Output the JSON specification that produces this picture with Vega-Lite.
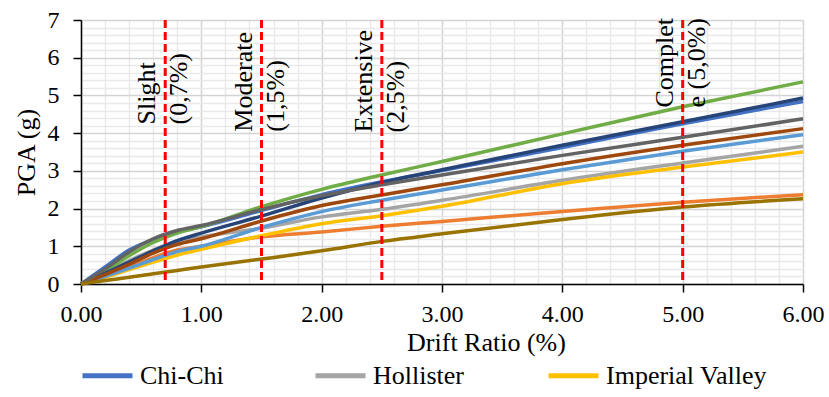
{
  "$schema": "https://vega.github.io/schema/vega-lite/v6.json",
  "width": 722,
  "height": 264,
  "autosize": {"type": "none"},
  "padding": {"left": 81, "top": 20, "right": 26, "bottom": 113},
  "background": "#ffffff",
  "config": {
    "view": {"stroke": null},
    "font": "Liberation Serif",
    "axis": {"labelFont": "Liberation Serif", "titleFont": "Liberation Serif"},
    "legend": {"labelFont": "Liberation Serif", "titleFont": "Liberation Serif"}
  },
  "datasets": {
    "curves": [
      {"drift": 0.0, "Chi-Chi": 0.00, "Duzce": 0.00, "Hollister": 0.00, "Imperial Valley": 0.00, "Kobe": 0.00, "Kocaeli": 0.00, "Landers": 0.00, "Loma Prieta": 0.00, "Manjil": 0.00, "Northridge": 0.00},
      {"drift": 0.2, "Chi-Chi": 0.45, "Duzce": 0.22, "Hollister": 0.30, "Imperial Valley": 0.18, "Kobe": 0.20, "Kocaeli": 0.35, "Landers": 0.28, "Loma Prieta": 0.25, "Manjil": 0.40, "Northridge": 0.09},
      {"drift": 0.4, "Chi-Chi": 0.90, "Duzce": 0.45, "Hollister": 0.62, "Imperial Valley": 0.38, "Kobe": 0.42, "Kocaeli": 0.75, "Landers": 0.58, "Loma Prieta": 0.52, "Manjil": 0.85, "Northridge": 0.18},
      {"drift": 0.6, "Chi-Chi": 1.18, "Duzce": 0.70, "Hollister": 0.90, "Imperial Valley": 0.58, "Kobe": 0.65, "Kocaeli": 1.10, "Landers": 0.88, "Loma Prieta": 0.82, "Manjil": 1.20, "Northridge": 0.27},
      {"drift": 0.8, "Chi-Chi": 1.38, "Duzce": 0.90, "Hollister": 1.12, "Imperial Valley": 0.77, "Kobe": 0.86, "Kocaeli": 1.35, "Landers": 1.15, "Loma Prieta": 1.05, "Manjil": 1.42, "Northridge": 0.36},
      {"drift": 1.0, "Chi-Chi": 1.52, "Duzce": 1.00, "Hollister": 1.25, "Imperial Valley": 0.92, "Kobe": 1.00, "Kocaeli": 1.52, "Landers": 1.35, "Loma Prieta": 1.20, "Manjil": 1.55, "Northridge": 0.45},
      {"drift": 1.5, "Chi-Chi": 1.95, "Duzce": 1.25, "Hollister": 1.48, "Imperial Valley": 1.28, "Kobe": 1.50, "Kocaeli": 2.05, "Landers": 1.80, "Loma Prieta": 1.67, "Manjil": 1.98, "Northridge": 0.66},
      {"drift": 2.0, "Chi-Chi": 2.37, "Duzce": 1.38, "Hollister": 1.78, "Imperial Valley": 1.60, "Kobe": 1.92, "Kocaeli": 2.51, "Landers": 2.28, "Loma Prieta": 2.08, "Manjil": 2.34, "Northridge": 0.88},
      {"drift": 2.5, "Chi-Chi": 2.71, "Duzce": 1.53, "Hollister": 1.98, "Imperial Valley": 1.81, "Kobe": 2.22, "Kocaeli": 2.89, "Landers": 2.69, "Loma Prieta": 2.36, "Manjil": 2.63, "Northridge": 1.13},
      {"drift": 3.0, "Chi-Chi": 3.01, "Duzce": 1.66, "Hollister": 2.22, "Imperial Valley": 2.06, "Kobe": 2.49, "Kocaeli": 3.25, "Landers": 3.03, "Loma Prieta": 2.63, "Manjil": 2.89, "Northridge": 1.33},
      {"drift": 4.0, "Chi-Chi": 3.62, "Duzce": 1.92, "Hollister": 2.75, "Imperial Valley": 2.66, "Kobe": 3.03, "Kocaeli": 3.98, "Landers": 3.68, "Loma Prieta": 3.19, "Manjil": 3.41, "Northridge": 1.71},
      {"drift": 5.0, "Chi-Chi": 4.25, "Duzce": 2.17, "Hollister": 3.21, "Imperial Valley": 3.10, "Kobe": 3.52, "Kocaeli": 4.70, "Landers": 4.30, "Loma Prieta": 3.68, "Manjil": 3.89, "Northridge": 2.04},
      {"drift": 6.0, "Chi-Chi": 4.84, "Duzce": 2.37, "Hollister": 3.65, "Imperial Valley": 3.50, "Kobe": 3.96, "Kocaeli": 5.36, "Landers": 4.93, "Loma Prieta": 4.12, "Manjil": 4.38, "Northridge": 2.26}
    ],
    "states": [
      {"drift": 0.7, "pga": 4.23, "label": "Slight\n(0,7%)"},
      {"drift": 1.5, "pga": 4.04, "label": "Moderate\n(1,5%)"},
      {"drift": 2.5, "pga": 4.02, "label": "Extensive\n(2,5%)"},
      {"drift": 5.0, "pga": 4.68, "label": "Complet\ne (5,0%)"}
    ]
  },
  "layer": [
    {
      "data": {"name": "curves"},
      "transform": [
        {"fold": ["Chi-Chi", "Duzce", "Hollister", "Imperial Valley", "Kobe", "Kocaeli", "Landers", "Loma Prieta", "Manjil", "Northridge"], "as": ["record", "pga"]}
      ],
      "mark": {"type": "line", "strokeWidth": 3.5, "interpolate": "monotone"},
      "encoding": {
        "x": {
          "field": "drift", "type": "quantitative", "title": "Drift Ratio (%)",
          "scale": {"domain": [0, 6], "nice": false, "zero": false},
          "axis": {
            "titleFont": "Liberation Serif", "titleFontSize": 26, "titleFontWeight": "normal", "titleColor": "#000000",
            "titleX": 405, "titleY": 66, "titleBaseline": "alphabetic",
            "values": [0,0.2,0.4,0.6,0.8,1,1.2,1.4,1.6,1.8,2,2.2,2.4,2.6,2.8,3,3.2,3.4,3.6,3.8,4,4.2,4.4,4.6,4.8,5,5.2,5.4,5.6,5.8,6],
            "labelExpr": "datum.value % 1 === 0 ? format(datum.value, '.2f') : ''",
            "labelFont": "Liberation Serif", "labelFontSize": 24, "labelColor": "#000000",
            "labelPadding": 10, "labelFlush": false, "labelOverlap": false,
            "domainColor": "#000000", "domainWidth": 1.5,
            "tickColor": "#000000", "tickSize": 8, "tickWidth": 1.5,
            "tickOpacity": {"condition": {"test": "datum.value % 1 === 0", "value": 1}, "value": 0},
            "grid": true, "gridWidth": 1.5,
            "gridColor": {"condition": {"test": "datum.value % 1 === 0", "value": "#d4d4d4"}, "value": "#e9e9e9"}
          }
        },
        "y": {
          "field": "pga", "type": "quantitative", "title": "PGA (g)",
          "scale": {"domain": [0, 7], "nice": false},
          "axis": {
            "titleFont": "Liberation Serif", "titleFontSize": 26, "titleFontWeight": "normal", "titleColor": "#000000",
            "titlePadding": 8,
            "values": [0,0.2,0.4,0.6,0.8,1,1.2,1.4,1.6,1.8,2,2.2,2.4,2.6,2.8,3,3.2,3.4,3.6,3.8,4,4.2,4.4,4.6,4.8,5,5.2,5.4,5.6,5.8,6,6.2,6.4,6.6,6.8,7],
            "labelExpr": "datum.value % 1 === 0 ? format(datum.value, 'd') : ''",
            "labelFont": "Liberation Serif", "labelFontSize": 24, "labelColor": "#000000",
            "labelPadding": 14, "labelOverlap": false, "labelFlush": false,
            "domainColor": "#000000", "domainWidth": 1.5,
            "tickColor": "#000000", "tickSize": 8, "tickWidth": 1.5,
            "tickOpacity": {"condition": {"test": "datum.value % 1 === 0", "value": 1}, "value": 0},
            "grid": true, "gridWidth": 1.5,
            "gridColor": {"condition": {"test": "datum.value % 1 === 0", "value": "#d4d4d4"}, "value": "#e9e9e9"}
          }
        },
        "color": {
          "field": "record", "type": "nominal",
          "scale": {
            "domain": ["Chi-Chi", "Duzce", "Hollister", "Imperial Valley", "Kobe", "Kocaeli", "Landers", "Loma Prieta", "Manjil", "Northridge"],
            "range": ["#4472C4", "#ED7D31", "#A5A5A5", "#FFC000", "#5B9BD5", "#70AD47", "#264478", "#9E480E", "#636363", "#997300"]
          },
          "legend": {
            "values": ["Chi-Chi", "Hollister", "Imperial Valley"],
            "title": null,
            "orient": "none", "legendX": -1, "legendY": 328,
            "direction": "horizontal",
            "symbolType": "stroke", "symbolSize": 2500, "symbolStrokeWidth": 5,
            "labelFont": "Liberation Serif", "labelFontSize": 26, "labelColor": "#000000", "labelLimit": 0,
            "labelOffset": 5, "columnPadding": 4, "gridAlign": "all", "padding": 0
          }
        }
      }
    },
    {
      "data": {"name": "states"},
      "mark": {"type": "rule", "color": "#FF0000", "strokeWidth": 3, "strokeDash": [8, 4]},
      "encoding": {
        "x": {
          "field": "drift", "type": "quantitative", "title": "Drift Ratio (%)",
          "scale": {"domain": [0, 6], "nice": false, "zero": false},
          "axis": {
            "titleFont": "Liberation Serif", "titleFontSize": 26, "titleFontWeight": "normal", "titleColor": "#000000",
            "titleX": 405, "titleY": 66, "titleBaseline": "alphabetic",
            "values": [0,0.2,0.4,0.6,0.8,1,1.2,1.4,1.6,1.8,2,2.2,2.4,2.6,2.8,3,3.2,3.4,3.6,3.8,4,4.2,4.4,4.6,4.8,5,5.2,5.4,5.6,5.8,6],
            "labelExpr": "datum.value % 1 === 0 ? format(datum.value, '.2f') : ''",
            "labelFont": "Liberation Serif", "labelFontSize": 24, "labelColor": "#000000",
            "labelPadding": 10, "labelFlush": false, "labelOverlap": false,
            "domainColor": "#000000", "domainWidth": 1.5,
            "tickColor": "#000000", "tickSize": 8, "tickWidth": 1.5,
            "tickOpacity": {"condition": {"test": "datum.value % 1 === 0", "value": 1}, "value": 0},
            "grid": true, "gridWidth": 1.5,
            "gridColor": {"condition": {"test": "datum.value % 1 === 0", "value": "#d4d4d4"}, "value": "#e9e9e9"}
          }
        }
      }
    },
    {
      "data": {"name": "states"},
      "mark": {
        "type": "text", "angle": 270, "align": "left", "baseline": "middle",
        "font": "Liberation Serif", "fontSize": 26, "lineHeight": 32, "lineBreak": "\n",
        "color": "#000000", "dy": -18
      },
      "encoding": {
        "x": {
          "field": "drift", "type": "quantitative", "title": "Drift Ratio (%)",
          "scale": {"domain": [0, 6], "nice": false, "zero": false},
          "axis": {
            "titleFont": "Liberation Serif", "titleFontSize": 26, "titleFontWeight": "normal", "titleColor": "#000000",
            "titleX": 405, "titleY": 66, "titleBaseline": "alphabetic",
            "values": [0,0.2,0.4,0.6,0.8,1,1.2,1.4,1.6,1.8,2,2.2,2.4,2.6,2.8,3,3.2,3.4,3.6,3.8,4,4.2,4.4,4.6,4.8,5,5.2,5.4,5.6,5.8,6],
            "labelExpr": "datum.value % 1 === 0 ? format(datum.value, '.2f') : ''",
            "labelFont": "Liberation Serif", "labelFontSize": 24, "labelColor": "#000000",
            "labelPadding": 10, "labelFlush": false, "labelOverlap": false,
            "domainColor": "#000000", "domainWidth": 1.5,
            "tickColor": "#000000", "tickSize": 8, "tickWidth": 1.5,
            "tickOpacity": {"condition": {"test": "datum.value % 1 === 0", "value": 1}, "value": 0},
            "grid": true, "gridWidth": 1.5,
            "gridColor": {"condition": {"test": "datum.value % 1 === 0", "value": "#d4d4d4"}, "value": "#e9e9e9"}
          }
        },
        "y": {
          "field": "pga", "type": "quantitative", "title": "PGA (g)",
          "scale": {"domain": [0, 7], "nice": false},
          "axis": {
            "titleFont": "Liberation Serif", "titleFontSize": 26, "titleFontWeight": "normal", "titleColor": "#000000",
            "titlePadding": 8,
            "values": [0,0.2,0.4,0.6,0.8,1,1.2,1.4,1.6,1.8,2,2.2,2.4,2.6,2.8,3,3.2,3.4,3.6,3.8,4,4.2,4.4,4.6,4.8,5,5.2,5.4,5.6,5.8,6,6.2,6.4,6.6,6.8,7],
            "labelExpr": "datum.value % 1 === 0 ? format(datum.value, 'd') : ''",
            "labelFont": "Liberation Serif", "labelFontSize": 24, "labelColor": "#000000",
            "labelPadding": 14, "labelOverlap": false, "labelFlush": false,
            "domainColor": "#000000", "domainWidth": 1.5,
            "tickColor": "#000000", "tickSize": 8, "tickWidth": 1.5,
            "tickOpacity": {"condition": {"test": "datum.value % 1 === 0", "value": 1}, "value": 0},
            "grid": true, "gridWidth": 1.5,
            "gridColor": {"condition": {"test": "datum.value % 1 === 0", "value": "#d4d4d4"}, "value": "#e9e9e9"}
          }
        },
        "text": {"field": "label", "type": "nominal"}
      }
    }
  ]
}
